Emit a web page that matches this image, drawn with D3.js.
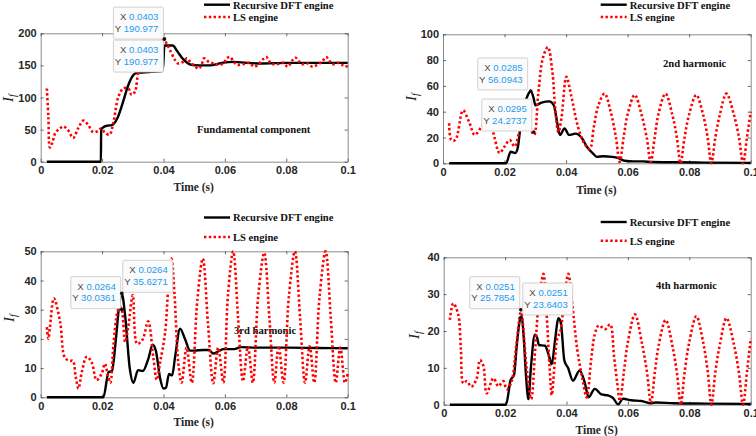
<!DOCTYPE html>
<html>
<head>
<meta charset="utf-8">
<script src="https://cdn.jsdelivr.net/npm/d3@7"></script>
<style>
  body { margin: 0; background: #fff; }
  svg { display: block; }
</style>
</head>
<body>
<div id="chart"></div>
<script>
// shared x axis
var xTicks = [0, 0.02, 0.04, 0.06, 0.08, 0.1];
var xTickLabels = ["0", "0.02", "0.04", "0.06", "0.08", "0.1"];

// y ticks per panel
var fundTicks = [0, 50, 100, 150, 200];
var secondTicks = [0, 20, 40, 60, 80, 100];
var thirdTicks = [0, 10, 20, 30, 40, 50];
var fourthTicks = [0, 10, 20, 30, 40];

var seriesNames = ["Recursive DFT engine", "LS engine"];

// [time (s), If]
var fundDft = [[0.002,0],[0.0196,0],[0.0197,50],[0.0205,54],[0.0215,56],[0.0232,57],[0.025,68],[0.027,96],
  [0.028,112],[0.029,125],[0.030,134],[0.031,138],[0.033,139],[0.036,140],[0.0395,141],[0.0399,150],
  [0.0403,181],[0.043,181],[0.0445,172],[0.046,162],[0.0475,155],[0.049,151],[0.0515,150],[0.055,150],
  [0.059,154],[0.063,155.5],[0.067,154],[0.072,153],[0.08,154],[0.09,154],[0.1,154]];
var fundLs = [[0.002,114],[0.0025,70],[0.003,22],[0.0038,30],[0.0048,45],[0.0063,52],[0.0074,55],[0.0089,49],
  [0.0106,37],[0.0122,52],[0.0139,64],[0.0155,57],[0.0171,46],[0.0187,48],[0.0197,52],[0.0208,46],
  [0.0224,42],[0.0237,62],[0.0253,101],[0.0269,114],[0.0286,114],[0.0296,104],[0.0307,109],[0.0318,140],
  [0.033,155],[0.0345,165],[0.036,172],[0.038,180],[0.0403,190],[0.041,184],[0.0421,174],[0.0438,158],
  [0.0448,153],[0.0465,156],[0.0476,161],[0.0486,156],[0.0503,148],[0.0514,145],[0.0524,151],[0.0532,161],
  [0.0546,156],[0.0562,153],[0.0579,151],[0.0595,153],[0.0606,161],[0.0617,163],[0.0628,156],[0.064,151],
  [0.066,152],[0.068,154],[0.0695,148],[0.071,152],[0.0725,160],[0.0735,163],[0.075,153],[0.077,152],
  [0.079,154],[0.0805,148],[0.082,158],[0.083,162],[0.085,152],[0.087,153],[0.0885,148],[0.0905,152],
  [0.092,158],[0.093,163],[0.095,152],[0.097,154],[0.0985,150],[0.1,148]];

var secondDft = [[0.002,0],[0.0205,0],[0.022,9],[0.0235,8],[0.0243,12],[0.025,25],[0.0265,45],[0.0278,54],
  [0.0285,56],[0.0295,50],[0.030,45],[0.032,47],[0.0345,48],[0.036,45],[0.037,33],[0.038,22],[0.0395,27],
  [0.041,22],[0.043,23],[0.045,20],[0.047,12],[0.049,7],[0.050,5],[0.052,5.5],[0.055,5],[0.057,4],
  [0.059,2],[0.062,1.5],[0.065,1.5],[0.068,1],[0.075,0.8],[0.085,0.5],[0.1,0.3]];
var secondLs = [[0.002,31],[0.0027,18],[0.004,18],[0.0065,41],[0.0085,32],[0.0103,22],[0.0125,28],[0.0145,32],
  [0.016,26],[0.0184,8],[0.020,13],[0.0217,18],[0.0233,13],[0.025,25],[0.027,30],[0.0285,26],[0.0296,22],
  [0.031,55],[0.0325,82],[0.0341,90],[0.0355,72],[0.0365,42],[0.0375,24],[0.0385,35],[0.0401,67],
  [0.0417,52],[0.0439,28],[0.046,15],[0.0477,11],[0.049,28],[0.0505,45],[0.0525,54],[0.0545,40],
  [0.0562,20],[0.0574,1],[0.0587,20],[0.060,38],[0.0623,53],[0.0645,38],[0.0662,20],[0.0675,1],
  [0.0688,20],[0.070,38],[0.0723,54],[0.0745,38],[0.076,20],[0.0772,0],[0.0785,20],[0.080,38],
  [0.0823,53],[0.0845,38],[0.086,20],[0.0872,0],[0.0885,20],[0.090,38],[0.0921,54],[0.0945,38],
  [0.0962,20],[0.0975,0],[0.0988,20],[0.1,40]];

var thirdDft = [[0.002,0],[0.0204,0],[0.0221,8.6],[0.0232,9],[0.0245,20],[0.0255,31],[0.0264,35.6],
  [0.0275,28],[0.029,10],[0.0302,5],[0.0317,9.3],[0.0333,9],[0.035,13],[0.0365,18],[0.0375,16],
  [0.039,6],[0.040,3],[0.0408,3.3],[0.0418,8],[0.0428,7.5],[0.0438,14],[0.0454,23.5],[0.047,20],
  [0.0487,16],[0.050,16],[0.053,16.2],[0.0548,16.2],[0.0562,15],[0.058,15.8],[0.0595,16.5],
  [0.063,16.5],[0.0652,17.2],[0.07,17],[0.08,17],[0.09,16.9],[0.1,16.8]];
var thirdLs = [[0.002,24],[0.0025,20],[0.003,24],[0.0043,33.9],[0.0063,26],[0.0079,13.5],[0.0095,12.5],
  [0.0105,12.5],[0.0114,7],[0.0123,3],[0.0134,8.7],[0.015,13.9],[0.0166,12],[0.0182,5.9],[0.0199,8.2],
  [0.0209,11.5],[0.022,7],[0.0227,5],[0.0237,17.9],[0.025,29.3],[0.0258,31],[0.0264,30],[0.0275,19],
  [0.0285,24],[0.030,35],[0.0314,18.3],[0.0331,19.6],[0.035,26],[0.0367,13.5],[0.0378,6],[0.0389,12],
  [0.0405,22],[0.0416,38],[0.0426,47.5],[0.0436,35],[0.0448,12],[0.0459,5],[0.0475,17],[0.0492,5],
  [0.051,33],[0.0528,47.5],[0.0545,25],[0.0562,4.8],[0.0578,17],[0.0595,5],[0.061,35],[0.0627,50],
  [0.0643,27],[0.0659,5.5],[0.0675,17.3],[0.0691,5],[0.0708,34],[0.0728,49.5],[0.0745,27],[0.0761,5],
  [0.0775,17.5],[0.0791,5],[0.0808,34],[0.0828,50],[0.0845,27],[0.0861,5],[0.0876,17.5],[0.0891,5],
  [0.0908,34],[0.0928,50],[0.0945,27],[0.0961,5],[0.0976,17],[0.0991,5],[0.1,8]];

var fourthDft = [[0.002,0],[0.0203,0],[0.0218,6.7],[0.0229,8],[0.0238,16],[0.0248,23],[0.0254,24],
  [0.026,19],[0.0268,8],[0.0276,1.5],[0.0284,10],[0.0297,19],[0.0305,18],[0.031,16.2],[0.033,16],
  [0.0342,13.5],[0.0352,11],[0.0362,17],[0.0374,23.5],[0.0382,22],[0.0393,12],[0.0405,10],[0.0421,6.5],
  [0.0443,9.3],[0.046,5.8],[0.0472,2],[0.0492,4.3],[0.0514,2.8],[0.0535,2.5],[0.0552,1.8],[0.0568,0.1],
  [0.0584,1.6],[0.0611,1.2],[0.0644,1],[0.0676,0.4],[0.069,0.6],[0.075,0.4],[0.085,0.3],[0.1,0.2]];
var fourthLs = [[0.002,23],[0.0031,27.5],[0.0047,24.6],[0.0056,15],[0.0064,5.8],[0.0075,6.4],[0.009,4.9],
  [0.0107,7],[0.0118,12.1],[0.0129,10.6],[0.014,3.1],[0.0162,7.2],[0.0178,5],[0.0194,6.4],[0.0205,4.2],
  [0.022,6],[0.0235,15],[0.0246,23],[0.0252,25.8],[0.026,20],[0.027,10],[0.0285,1.5],[0.0298,15],
  [0.031,28],[0.0325,35.5],[0.0335,25],[0.0345,10],[0.0352,2.6],[0.0362,12],[0.037,18],[0.038,20],
  [0.0392,28],[0.0406,35.5],[0.0418,28],[0.0435,15],[0.0452,7],[0.0466,2],[0.048,12],[0.0492,19],
  [0.0505,21.5],[0.0526,20.5],[0.0542,21.8],[0.0555,13],[0.0565,6],[0.0574,1],[0.0587,9],[0.060,17],
  [0.0623,24.5],[0.0645,17],[0.0662,9],[0.0675,0.5],[0.0688,9],[0.070,16],[0.0723,23],[0.0745,16],
  [0.076,8.5],[0.0772,0],[0.0785,9],[0.080,17],[0.0823,24],[0.0845,17],[0.086,9],[0.0872,0],[0.0885,9],
  [0.090,16.5],[0.0921,23.5],[0.0945,16.5],[0.0962,8.5],[0.0975,0],[0.0988,9],[0.1,18]];

// data tips shown on the figure
var fundTips = [[0.0403, "0.0403", 190.977, "190.977"], [0.0403, "0.0403", 190.977, "190.977"]];
var secondTips = [[0.0285, "0.0285", 56.0943, "56.0943"], [0.0295, "0.0295", 24.2737, "24.2737"]];
var thirdTips = [[0.0264, "0.0264", 30.0361, "30.0361"], [0.0264, "0.0264", 35.6271, "35.6271"]];
var fourthTips = [[0.0251, "0.0251", 25.7854, "25.7854"], [0.0251, "0.0251", 23.6403, "23.6403"]];

window.onload = function() {

  var width = 756, height = 436;

  var svg = d3.select("#chart")
    .append("svg")
    .attr("width", width)
    .attr("height", height);

  // layout of the four axes
  var panels = [
    {left: 40.7, right: 347.7, top: 33.3, bottom: 161.7, yMax: 200, yTicks: fundTicks,
     dft: fundDft, ls: fundLs, tips: fundTips, tipPlace: [["nw", -1, 0], ["sw", -1, 1]],
     note: "Fundamental component", noteX: 197, noteY: 133,
     legX: 204, legY: [4.7, 17], xLabel: "Time (s)", xLabelY: 191, yLabelX: 8, yLabelY: 98},
    {left: 443, right: 750.7, top: 34.3, bottom: 163.3, yMax: 100, yTicks: secondTicks,
     dft: secondDft, ls: secondLs, tips: secondTips, tipPlace: [["nw", -3, -1], ["nw", -2, -1]],
     note: "2nd harmonic", noteX: 663, noteY: 66.5,
     legX: 600.7, legY: [4.7, 17], xLabel: "Time (s)", xLabelY: 194, yLabelX: 411, yLabelY: 97},
    {left: 40.7, right: 347.7, top: 251.3, bottom: 397.3, yMax: 50, yTicks: thirdTicks,
     dft: thirdDft, ls: thirdLs, tips: thirdTips, tipPlace: [["nw", -1, -1], ["ne", 1, -1]],
     note: "3rd harmonic", noteX: 234, noteY: 334,
     legX: 204, legY: [217.5, 237], xLabel: "Time (s)", xLabelY: 426, yLabelX: 9, yLabelY: 318},
    {left: 443.7, right: 750.7, top: 257.3, bottom: 404.7, yMax: 40, yTicks: fourthTicks,
     dft: fourthDft, ls: fourthLs, tips: fourthTips, tipPlace: [["nw", -1, -1], ["ne", 2, -2.6]],
     note: "4th harmonic", noteX: 656, noteY: 288.5,
     legX: 600.7, legY: [222, 240.7], xLabel: "Time (S)", xLabelY: 434, yLabelX: 414, yLabelY: 335}
  ];

  panels.forEach(function(p) { drawPanel(svg, p); });
};

function styleAxis(sel, showText) {
  sel.selectAll(".domain").attr("stroke", "#6e6e6e").attr("stroke-width", 0.8);
  sel.selectAll(".tick line").attr("stroke", "#444").attr("stroke-width", 0.8);
  sel.attr("font-family", "'Liberation Sans', Arial, sans-serif")
    .attr("font-size", 11)
    .attr("font-weight", "bold");
  sel.selectAll(".tick text").attr("fill", "#262626");
}

function drawPanel(svg, p) {

  var x = d3.scaleLinear().domain([0, 0.1]).range([p.left, p.right]);
  var y = d3.scaleLinear().domain([0, p.yMax]).range([p.bottom, p.top]);

  var g = svg.append("g");

  // axes, ticks pointing inward, box all round
  g.append("g")
    .attr("transform", "translate(0," + p.bottom + ")")
    .call(d3.axisBottom(x).tickValues(xTicks)
      .tickFormat(function(d, i) { return xTickLabels[i]; })
      .tickSizeInner(-3).tickSizeOuter(0).tickPadding(5))
    .call(styleAxis);
  g.append("g")
    .attr("transform", "translate(0," + p.top + ")")
    .call(d3.axisTop(x).tickValues(xTicks).tickFormat("")
      .tickSizeInner(-3).tickSizeOuter(0))
    .call(styleAxis);
  g.append("g")
    .attr("transform", "translate(" + p.left + ",0)")
    .call(d3.axisLeft(y).tickValues(p.yTicks)
      .tickSizeInner(-3).tickSizeOuter(0).tickPadding(4))
    .call(styleAxis);
  g.append("g")
    .attr("transform", "translate(" + p.right + ",0)")
    .call(d3.axisRight(y).tickValues(p.yTicks).tickFormat("")
      .tickSizeInner(-3).tickSizeOuter(0))
    .call(styleAxis);

  // panel note
  g.append("text")
    .attr("x", p.noteX)
    .attr("y", p.noteY)
    .attr("font-family", "'Liberation Serif', 'Times New Roman', serif")
    .attr("font-weight", "bold")
    .attr("font-size", 10.6)
    .attr("fill", "#111")
    .text(p.note);

  var dftLine = d3.line()
    .x(function(d) { return x(d[0]); })
    .y(function(d) { return y(d[1]); })
    .curve(d3.curveMonotoneX);

  var lsLine = d3.line()
    .x(function(d) { return x(d[0]); })
    .y(function(d) { return y(d[1]); })
    .curve(d3.curveCatmullRom.alpha(0.5));

  g.append("path")
    .datum(p.dft)
    .attr("d", dftLine)
    .attr("fill", "none")
    .attr("stroke", "#000")
    .attr("stroke-width", 2.4)
    .attr("stroke-linejoin", "round");

  g.append("path")
    .datum(p.ls)
    .attr("d", lsLine)
    .attr("fill", "none")
    .attr("stroke", "#ff0000")
    .attr("stroke-width", 2.6)
    .attr("stroke-dasharray", "2.4,2.4");

  // legend
  var leg = g.append("g");
  leg.append("line")
    .attr("x1", p.legX).attr("x2", p.legX + 26)
    .attr("y1", p.legY[0]).attr("y2", p.legY[0])
    .attr("stroke", "#000").attr("stroke-width", 2.4);
  leg.append("line")
    .attr("x1", p.legX).attr("x2", p.legX + 26)
    .attr("y1", p.legY[1]).attr("y2", p.legY[1])
    .attr("stroke", "#ff0000").attr("stroke-width", 2.6)
    .attr("stroke-dasharray", "2.4,2.4");
  leg.selectAll("text")
    .data(seriesNames)
    .enter().append("text")
    .attr("x", p.legX + 29)
    .attr("y", function(d, i) { return p.legY[i] + 3.8; })
    .attr("font-family", "'Liberation Serif', 'Times New Roman', serif")
    .attr("font-weight", "bold")
    .attr("font-size", 10.6)
    .attr("fill", "#111")
    .text(function(d) { return d; });

  // axis labels
  g.append("text")
    .attr("x", (p.left + p.right) / 2 - 0.5)
    .attr("y", p.xLabelY)
    .attr("text-anchor", "middle")
    .attr("font-family", "'Liberation Serif', 'Times New Roman', serif")
    .attr("font-weight", "bold")
    .attr("font-size", 11.5)
    .attr("fill", "#262626")
    .text(p.xLabel);

  var yl = g.append("text")
    .attr("transform", "translate(" + p.yLabelX + "," + p.yLabelY + ") rotate(-90)")
    .attr("text-anchor", "middle")
    .attr("font-family", "'Liberation Serif', 'Times New Roman', serif")
    .attr("font-style", "italic")
    .attr("font-size", 15)
    .attr("fill", "#262626");
  yl.append("tspan").attr("dy", "0.35em").text("I");
  yl.append("tspan").attr("dy", 3).attr("font-size", 10).text("f");

  // data tips
  var boxW = 50, boxH = 32;
  p.tips.forEach(function(t, i) {
    var px = x(t[0]), py = y(t[2]);
    var place = p.tipPlace[i];
    var bx = place[0] === "ne" ? px + place[1] : px + place[1] - boxW;
    var by = place[0] === "sw" ? py + place[2] : py + place[2] - boxH;

    var tip = g.append("g");
    tip.append("rect")
      .attr("x", bx).attr("y", by)
      .attr("width", boxW).attr("height", boxH)
      .attr("rx", 1.5)
      .attr("fill", "#fbfbfb")
      .attr("stroke", "#c6c6c6")
      .attr("stroke-width", 0.8);

    var rows = [["X ", t[1]], ["Y ", t[3]]];
    rows.forEach(function(r, k) {
      var tx = tip.append("text")
        .attr("x", bx + boxW - 5)
        .attr("y", by + 13 + k * 11.7)
        .attr("text-anchor", "end")
        .attr("font-family", "'Liberation Sans', Arial, sans-serif")
        .attr("font-size", 9.6);
      tx.append("tspan").attr("fill", "#4a4a4a").text(r[0]);
      tx.append("tspan").attr("fill", "#1d9bf0").text(r[1]);
    });

    g.append("circle")
      .attr("cx", px).attr("cy", py)
      .attr("r", 1.8)
      .attr("fill", "#111");
  });
}
</script>
</body>
</html>
